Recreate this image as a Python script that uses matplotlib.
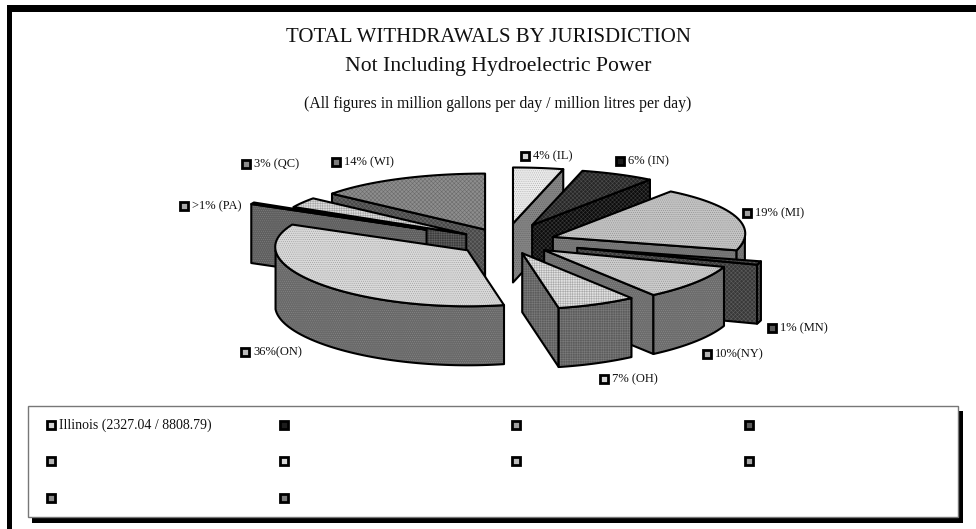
"""Exploded 3D pie of total water withdrawals by jurisdiction."""

import numpy as np
import matplotlib
matplotlib.use('Agg')
import matplotlib.pyplot as plt
from matplotlib.patches import Polygon, Rectangle

plt.rcParams['font.family'] = ['Liberation Serif', 'DejaVu Serif']
plt.rcParams['hatch.linewidth'] = 0.4

W, H = 976, 529

JURISDICTIONS = ['IL', 'IN', 'MI', 'MN', 'NY', 'OH', 'ON', 'PA', 'QC', 'WI']
SHARES = [4, 6, 19, 1, 10, 7, 36, 0.5, 3, 14]
LABELS = ['4% (IL)', '6% (IN)', '19% (MI)', '1% (MN)', '10%(NY)',
          '7% (OH)', '36%(ON)', '>1% (PA)', '3% (QC)', '14% (WI)']
EXPLODE = [64, 64, 51, 75, 48, 42, 47, 89, 47, 47]

TOP_COLORS = ['#ececec', '#262626', '#c4c4c4', '#363636', '#cbcbcb',
              '#e2e2e2', '#d9d9d9', '#b8b8b8', '#dddddd', '#8e8e8e']
SIDE_COLORS = ['#858585', '#0c0c0c', '#707070', '#383838', '#6c6c6c',
               '#5c5c5c', '#696969', '#5f5f5f', '#3c3c3c', '#474747']
MARKER_COLORS = ['#d4d4d4', '#1c1c1c', '#a0a0a0', '#5a5a5a', '#b4b4b4',
                 '#d8d8d8', '#bcbcbc', '#a8a8a8', '#8c8c8c', '#7c7c7c']
HATCHES = ['........', 'xxxxxxxx', '........', 'xxxxxxxx', '........',
           '+++++++', '........', '........', '+++++++', 'xxxxxxxx']

LEGEND_TEXTS = ['Illinois (2327.04 / 8808.79)']

# layout, pixels
CENTER = (505, 242)
RX, RY, DEPTH = 192, 56, 59
PERSPECTIVE = 0.06
LABEL_POS = [(525, 156), (620, 161), (747, 213), (772, 328), (707, 354),
             (604, 379), (245, 352), (184, 206), (246, 164), (336, 162)]
LEGEND_X = [51, 284, 516, 749]
LEGEND_Y = [425, 461, 498]


def pt(apex, theta):
    """Screen position on the rim at clockwise angle theta (deg from top)."""
    t = np.radians(theta)
    rx = RX * (1 + PERSPECTIVE * np.cos(t))
    return apex[0] + rx * np.sin(t), apex[1] - RY * np.cos(t)


def face(ax, xy, color, hatch, zorder):
    hatch_col = '#00000040' if color > '#808080' else '#ffffff30'
    ax.add_patch(Polygon(xy, closed=True, facecolor=color, edgecolor=hatch_col,
                         hatch=hatch, lw=0, zorder=zorder))
    ax.add_patch(Polygon(xy, closed=True, fill=False, edgecolor='black',
                         lw=1.5, joinstyle='round', zorder=zorder))


def draw_slice(ax, i, start, end, zorder):
    mid = np.radians((start + end) / 2)
    e = EXPLODE[i]
    apex = (CENTER[0] + e * np.sin(mid), CENTER[1] - e * (RY / RX) * np.cos(mid))
    side, hatch = SIDE_COLORS[i], HATCHES[i]

    # radial wall that faces the viewer
    for a, visible in ((end, 0 < end < 180), (start, 180 < start < 360)):
        if visible:
            p = pt(apex, a)
            wall = [apex, p, (p[0], p[1] + DEPTH), (apex[0], apex[1] + DEPTH)]
            face(ax, wall, side, hatch, zorder)

    # outer rim, front half of the ellipse only
    lo, hi = max(start, 90), min(end, 270)
    if lo < hi:
        th = np.linspace(lo, hi, 60)
        upper = [pt(apex, t) for t in th]
        lower = [(x, y + DEPTH) for x, y in upper][::-1]
        face(ax, upper + lower, side, hatch, zorder)

    th = np.linspace(start, end, 80)
    face(ax, [apex] + [pt(apex, t) for t in th], TOP_COLORS[i], hatch, zorder)


def marker(ax, x, y, color, size=8):
    ax.add_patch(Rectangle((x - size / 2, y - size / 2), size, size, facecolor=color,
                           edgecolor='black', lw=2, zorder=30))


def main():
    fig = plt.figure(figsize=(W / 100, H / 100), dpi=100)
    ax = fig.add_axes([0, 0, 1, 1])
    ax.set_xlim(0, W)
    ax.set_ylim(H, 0)
    ax.axis('off')

    # chart frame: black on top and left only
    ax.add_patch(Rectangle((7, 5), W - 7, 7, color='black', lw=0))
    ax.add_patch(Rectangle((7, 5), 5, H - 5, color='black', lw=0))

    ax.text(488, 38, 'TOTAL WITHDRAWALS BY JURISDICTION', ha='center', va='center',
            fontsize=15, color='#111111')
    ax.text(498, 67, 'Not Including Hydroelectric Power', ha='center', va='center',
            fontsize=15.6, color='#111111')
    ax.text(498, 104, '(All figures in million gallons per day / million litres per day)',
            ha='center', va='center', fontsize=11.3, color='#111111')

    fractions = np.array(SHARES) / sum(SHARES)
    edges = np.concatenate(([0], np.cumsum(fractions))) * 360
    mids = (edges[:-1] + edges[1:]) / 2
    # paint from the back of the pie to the front
    order = np.argsort(-np.cos(np.radians(mids)))
    for z, i in enumerate(order):
        draw_slice(ax, i, edges[i], edges[i + 1], 5 + z)

    for (x, y), label, col in zip(LABEL_POS, LABELS, MARKER_COLORS):
        marker(ax, x, y, col)
        ax.text(x + 8, y, label, ha='left', va='center', fontsize=9,
                color='#111111', zorder=31)

    # legend box with drop shadow
    ax.add_patch(Rectangle((32, 411), 931, 112, color='black', lw=0, zorder=20))
    ax.add_patch(Rectangle((28, 406), 930, 111, facecolor='white', edgecolor='#777777',
                           lw=1, zorder=21))
    n = 0
    for y in LEGEND_Y:
        for x in LEGEND_X:
            if n < len(JURISDICTIONS):
                marker(ax, x, y, MARKER_COLORS[n])
            n += 1
    for text, x, y in zip(LEGEND_TEXTS, LEGEND_X, LEGEND_Y):
        ax.text(x + 8, y, text, ha='left', va='center', fontsize=10,
                color='#111111', zorder=31)

    fig.savefig('out.png', dpi=100, facecolor='white')


if __name__ == '__main__':
    main()
